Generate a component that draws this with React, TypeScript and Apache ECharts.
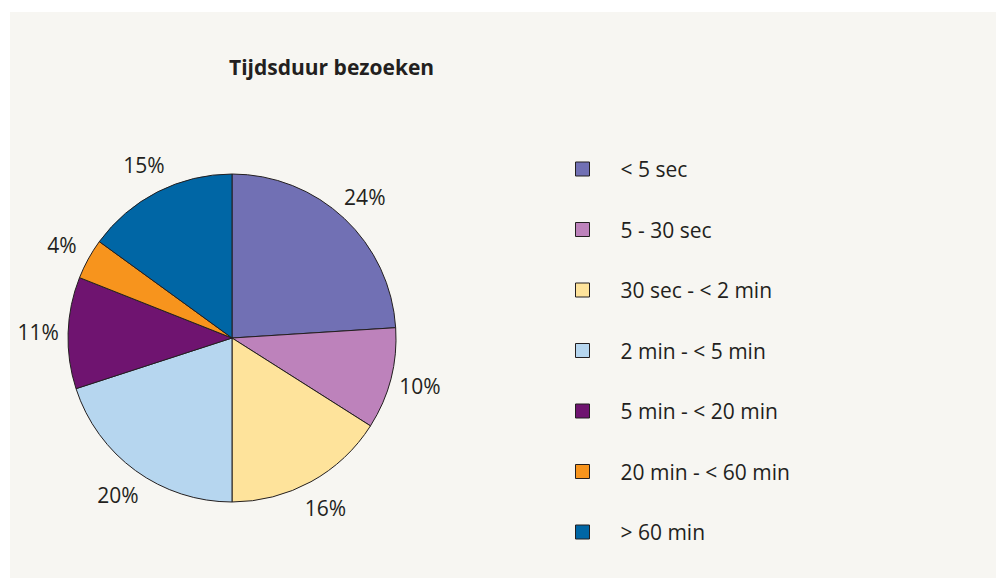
import React, { useEffect, useRef } from "react";
import * as echarts from "echarts";

const TITLE = "Tijdsduur bezoeken";
const categories = [
  "< 5 sec",
  "5 - 30 sec",
  "30 sec - < 2 min",
  "2 min - < 5 min",
  "5 min - < 20 min",
  "20 min - < 60 min",
  "> 60 min",
];
const values = [24, 10, 16, 20, 11, 4, 15];
const colors = ["#7170b4", "#bd82bb", "#fee39b", "#b6d6ef", "#6f1470", "#f7941d", "#0066a5"];

const FONT = "'Open Sans', sans-serif";
const TEXT = "#231f20";

export default function App() {
  const ref = useRef<HTMLDivElement>(null);
  useEffect(() => {
    if (!ref.current) return;
    const chart = echarts.init(ref.current, undefined, { renderer: "svg" });
    const data = categories.map((name, i) => ({
      name,
      value: values[i],
      itemStyle: { color: colors[i] },
    }));
    chart.setOption({
      animation: false,
      backgroundColor: "#ffffff",
      textStyle: { fontFamily: FONT },
      graphic: [
        {
          type: "rect",
          z: -10,
          silent: true,
          shape: { x: 10, y: 12, width: 986, height: 566 },
          style: { fill: "#f7f6f2" },
        },
      ],
      title: {
        text: TITLE,
        left: 224,
        top: 50,
        textStyle: { fontFamily: FONT, fontSize: 21, fontWeight: "bold", color: TEXT, lineHeight: 24 },
      },
      legend: {
        orient: "vertical",
        left: 570,
        top: 152,
        itemWidth: 14,
        itemHeight: 14,
        itemGap: 36.5,
        icon: "rect",
        data: categories,
        textStyle: {
          fontFamily: FONT,
          fontSize: 21,
          lineHeight: 24,
          color: TEXT,
          padding: [0, 0, 0, 26],
        },
        itemStyle: { borderColor: TEXT, borderWidth: 1 },
      },
      series: [
        {
          type: "pie",
          center: [232, 338],
          radius: [0, 164],
          startAngle: 90,
          clockwise: true,
          label: { show: false },
          labelLine: { show: false },
          itemStyle: { borderColor: TEXT, borderWidth: 1 },
          emphasis: { disabled: true },
          data,
        },
        {
          type: "pie",
          center: [232, 338],
          radius: [182, 200],
          startAngle: 90,
          clockwise: true,
          silent: true,
          itemStyle: { color: "rgba(0,0,0,0)", borderWidth: 0 },
          label: {
            show: true,
            position: "inside",
            formatter: "{c}%",
            fontFamily: FONT,
            fontSize: 21,
            color: TEXT,
          },
          labelLine: { show: false },
          emphasis: { disabled: true },
          data: categories.map((name, i) => ({ name, value: values[i] })),
        },
      ],
    });
    return () => chart.dispose();
  }, []);
  return (
    <div
      ref={ref}
      style={{ position: "fixed", left: 0, top: 0, width: 996, height: 579 }}
    />
  );
}
